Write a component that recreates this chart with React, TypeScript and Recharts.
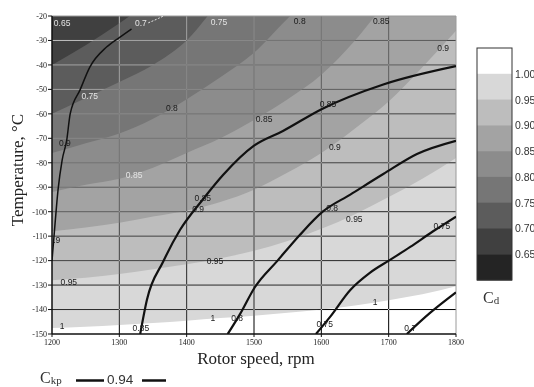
import React from "react";
import { ComposedChart, Area, Line, Scatter, XAxis, YAxis, ReferenceLine, CartesianGrid } from "recharts";

// ---- axes ----
const rpmTicks = [1200, 1300, 1400, 1500, 1600, 1700, 1800];
const tempTicks = [-20, -30, -40, -50, -60, -70, -80, -90, -100, -110, -120, -130, -140, -150];

// ---- colour scale (Cd) ----
const cdLevels = ["1.00", "0.95", "0.90", "0.85", "0.80", "0.75", "0.70", "0.65"];
const cdColors = ["#ffffff", "#d8d8d8", "#bdbdbd", "#a3a3a3", "#8c8c8c", "#767676", "#5c5c5c", "#404040", "#242424"];

// ---- Cd band boundaries: temperature (°C) of each level along rotor speed ----
const rpmGrid = [1200, 1250, 1300, 1350, 1400, 1450, 1500, 1550, 1600, 1650, 1700, 1750, 1800];
const cd070 = [-40, -32, -23, -13, -3, 8, 20, 32, 45, 58, 70, 82, 95];
const cd075 = [-60, -53.5, -47, -40, -30, -14, -2, 10, 22, 34, 46, 58, 70];
const cd080 = [-76, -72, -68, -62, -54, -45, -35, -21, -8, 5, 18, 30, 42];
const cd085 = [-92, -89, -86.5, -82, -76, -70, -62.5, -54, -44, -30, -13, 3, 18];
const cd090 = [-108, -106.5, -104.5, -102, -99.5, -96, -91, -84, -76, -66, -55, -41, -26];
const cd095 = [-128, -127, -125.5, -123.5, -121.5, -119, -116, -112, -107, -101, -94, -86.5, -78];
const cd100 = [-147.5, -147, -146.3, -145.5, -144.6, -143.5, -142.5, -141.3, -140, -138.3, -136.2, -133.8, -130.5];

// ---- Ckp contour lines ----
const ckpLine090 = [
  { x: 1200, t: -120 }, { x: 1204.5, t: -105 }, { x: 1209, t: -91 }, { x: 1215, t: -79 },
  { x: 1222, t: -70.5 }, { x: 1227, t: -60 }, { x: 1242, t: -50 }, { x: 1256, t: -41 },
  { x: 1281, t: -32.7 }, { x: 1301, t: -28.6 }, { x: 1318, t: -25.3 },
];
const ckpLine090Top = [{ x: 1343, t: -22.8 }, { x: 1358, t: -21 }, { x: 1374, t: -18.8 }];
const ckpLine085 = [
  { x: 1331, t: -150 }, { x: 1341, t: -136 }, { x: 1365, t: -120.5 }, { x: 1390, t: -107.5 },
  { x: 1424, t: -95 }, { x: 1454, t: -85 }, { x: 1500, t: -73 }, { x: 1543, t: -67 },
  { x: 1601, t: -58 }, { x: 1692, t: -48 }, { x: 1800, t: -40.5 },
];
const ckpLine080 = [
  { x: 1461, t: -150 }, { x: 1479, t: -142 }, { x: 1501, t: -131 }, { x: 1535, t: -120 },
  { x: 1568, t: -109.5 }, { x: 1602, t: -100 }, { x: 1643, t: -93 }, { x: 1692, t: -84.6 },
  { x: 1742, t: -76.4 }, { x: 1800, t: -71 },
];
const ckpLine075 = [
  { x: 1592, t: -150 }, { x: 1613, t: -143 }, { x: 1643, t: -132 }, { x: 1672, t: -125 },
  { x: 1702, t: -119.7 }, { x: 1732, t: -114.4 }, { x: 1766, t: -108 }, { x: 1800, t: -102 },
];
const ckpLine070 = [{ x: 1727, t: -150 }, { x: 1761, t: -141.5 }, { x: 1800, t: -133 }];

// ---- labels ----
const lightLabels = [
  { x: 1215, t: -22.9, text: "0.65" },
  { x: 1332, t: -22.9, text: "0.7" },
  { x: 1448, t: -22.5, text: "0.75" },
  { x: 1256, t: -52.7, text: "0.75" },
  { x: 1322, t: -85, text: "0.85" },
];
const darkLabels = [
  { x: 1568, t: -22, text: "0.8" },
  { x: 1689, t: -22, text: "0.85" },
  { x: 1781, t: -33, text: "0.9" },
  { x: 1378, t: -57.6, text: "0.8" },
  { x: 1515, t: -62, text: "0.85" },
  { x: 1620, t: -73.5, text: "0.9" },
  { x: 1417, t: -98.8, text: "0.9" },
  { x: 1207, t: -111.6, text: ".9" },
  { x: 1225, t: -128.7, text: "0.95" },
  { x: 1442, t: -120.2, text: "0.95" },
  { x: 1649, t: -103, text: "0.95" },
  { x: 1215, t: -146.7, text: "1" },
  { x: 1439, t: -143.5, text: "1" },
  { x: 1680, t: -136.9, text: "1" },
  { x: 1219, t: -71.9, text: "0.9" },
  { x: 1424, t: -94.3, text: "0.85" },
  { x: 1332, t: -147.5, text: "0.85" },
  { x: 1610, t: -56, text: "0.85" },
  { x: 1475, t: -143.5, text: "0.8" },
  { x: 1616, t: -98.5, text: "0.8" },
  { x: 1605, t: -146, text: "0.75" },
  { x: 1779, t: -105.8, text: "0.75" },
  { x: 1732, t: -147.5, text: "0.7" },
];

const bandRows = rpmGrid.map((x, i) => ({
  x,
  b070: cd070[i],
  b075: cd075[i],
  b080: cd080[i],
  b085: cd085[i],
  b090: cd090[i],
  b095: cd095[i],
  b100: cd100[i],
}));
const bands = [
  { key: "b070", color: cdColors[6] },
  { key: "b075", color: cdColors[5] },
  { key: "b080", color: cdColors[4] },
  { key: "b085", color: cdColors[3] },
  { key: "b090", color: cdColors[2] },
  { key: "b095", color: cdColors[1] },
  { key: "b100", color: cdColors[0] },
];
const ckpLines = [ckpLine085, ckpLine080, ckpLine075, ckpLine070];

const SANS = "'Liberation Sans', Arial, sans-serif";
const SERIF = "'Liberation Serif', 'Times New Roman', serif";

const makeLabel = (fill: string) => (p: any) => {
  if (p == null || p.cx == null || !p.payload) return <g />;
  return (
    <text x={p.cx} y={p.cy} dy={3} textAnchor="middle" fontSize={8.5} fontFamily={SANS} fill={fill}>
      {p.payload.text}
    </text>
  );
};

const blend = { mixBlendMode: "difference" as const };

export default function App() {
  const barX = 477;
  const barY = 48;
  const barW = 35;
  const bandH = 25.78;
  return (
    <div style={{ position: "absolute", left: 0, top: 0, width: 534, height: 387, background: "#fff", overflow: "hidden" }}>
      <ComposedChart width={534} height={387} data={bandRows} margin={{ top: 16, right: 78, bottom: 33, left: 0 }}>
        <CartesianGrid horizontal={false} vertical={false} fill={cdColors[7]} fillOpacity={1} stroke="none" />
        <XAxis
          dataKey="x"
          type="number"
          domain={[1200, 1800]}
          ticks={rpmTicks}
          interval={0}
          allowDataOverflow
          height={20}
          tickSize={3}
          tickMargin={2}
          tick={{ fontSize: 8, fontFamily: SERIF, fill: "#222" }}
          axisLine={{ stroke: "#111", strokeWidth: 1.5 }}
          tickLine={{ stroke: "#111" }}
        />
        <YAxis
          type="number"
          domain={[-150, -20]}
          ticks={tempTicks}
          interval={0}
          allowDataOverflow
          width={52}
          tickSize={4}
          tickMargin={1}
          tick={{ fontSize: 8, fontFamily: SERIF, fill: "#222" }}
          axisLine={{ stroke: "#111", strokeWidth: 1.5 }}
          tickLine={{ stroke: "#111" }}
        />
        {bands.map((b) => (
          <Area
            key={b.key}
            type="monotone"
            dataKey={b.key}
            stroke="none"
            fill={b.color}
            fillOpacity={1}
            baseValue="dataMin"
            dot={false}
            activeDot={false}
            isAnimationActive={false}
          />
        ))}
        {tempTicks.slice(1, -1).map((t) => (
          <ReferenceLine key={"h" + t} y={t} stroke="#ffffff" strokeWidth={1} style={blend} />
        ))}
        {rpmTicks.slice(1, -1).map((x) => (
          <ReferenceLine key={"v" + x} x={x} stroke="#ffffff" strokeWidth={1} style={blend} />
        ))}
        <ReferenceLine y={-20} stroke="#9a9a9a" strokeWidth={1} />
        <ReferenceLine x={1800} stroke="#9a9a9a" strokeWidth={1} />
        <Line
          data={ckpLine090}
          dataKey="t"
          type="monotone"
          stroke="#111"
          strokeWidth={1.5}
          dot={false}
          activeDot={false}
          isAnimationActive={false}
        />
        <Line
          data={ckpLine090Top}
          dataKey="t"
          type="monotone"
          stroke="#e6e6e6"
          strokeWidth={1}
          strokeDasharray="2 1.5"
          dot={false}
          activeDot={false}
          isAnimationActive={false}
        />
        {ckpLines.map((d, i) => (
          <Line
            key={"l" + i}
            data={d}
            dataKey="t"
            type="monotone"
            stroke="#111"
            strokeWidth={2.2}
            dot={false}
            activeDot={false}
            isAnimationActive={false}
          />
        ))}
        <Scatter data={lightLabels} dataKey="t" shape={makeLabel("#e4e4e4")} isAnimationActive={false} />
        <Scatter data={darkLabels} dataKey="t" shape={makeLabel("#1a1a1a")} isAnimationActive={false} />
      </ComposedChart>
      <svg width={534} height={387} style={{ position: "absolute", left: 0, top: 0, pointerEvents: "none" }}>
        <text transform="translate(23,170) rotate(-90)" textAnchor="middle" fontFamily={SERIF} fontSize={17} fill="#222">
          Temperature, °C
        </text>
        <text x={256} y={364} textAnchor="middle" fontFamily={SERIF} fontSize={17} fill="#222">
          Rotor speed, rpm
        </text>
        {cdColors.map((c, i) => (
          <rect key={"cb" + i} x={barX} y={barY + i * bandH} width={barW} height={bandH + 0.5} fill={c} />
        ))}
        <rect x={barX} y={barY} width={barW} height={bandH * cdColors.length} fill="none" stroke="#333" strokeWidth={1} />
        {cdLevels.map((l, i) => (
          <text key={"cl" + i} x={515} y={barY + (i + 1) * bandH + 4} fontFamily={SANS} fontSize={10.5} fill="#333">
            {l}
          </text>
        ))}
        <text x={483} y={303} fontFamily={SERIF} fontSize={16} fill="#333">
          C<tspan fontSize={11} dy={1}>d</tspan>
        </text>
        <text x={40} y={383} fontFamily={SERIF} fontSize={16} fill="#333">
          C<tspan fontSize={11} dy={1}>kp</tspan>
        </text>
        <line x1={76} x2={104} y1={380.5} y2={380.5} stroke="#111" strokeWidth={2.5} />
        <text x={107} y={384} fontFamily={SANS} fontSize={13.5} fill="#333">
          0.94
        </text>
        <line x1={142} x2={166} y1={380.5} y2={380.5} stroke="#111" strokeWidth={2.5} />
      </svg>
    </div>
  );
}
